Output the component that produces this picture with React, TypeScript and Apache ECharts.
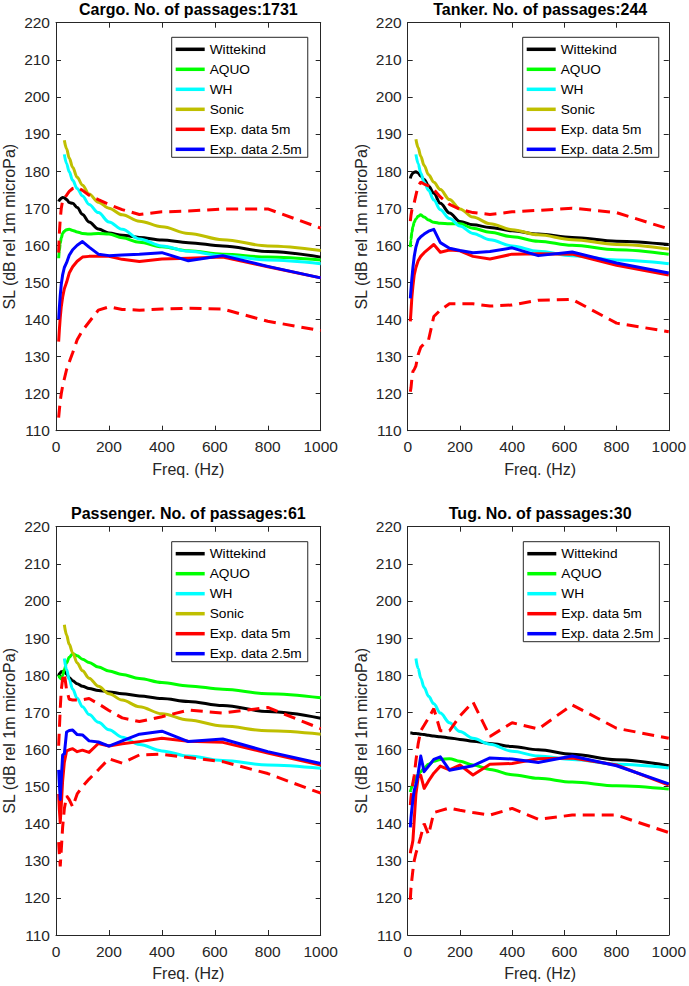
import React, { useEffect, useRef } from "react";
import * as echarts from "echarts";

// ---------- data ----------
const FREQ = [10, 12.5, 16, 20, 25, 31.5, 40, 50, 63, 80, 100, 125, 160, 200, 250, 315, 400, 500, 630, 800, 1000];
const FREQ_MODEL = [31.5, 40, 50, 63, 80, 100, 125, 160, 200, 250, 315, 400, 500, 630, 800, 1000];

const X_TICKS = [0, 200, 400, 600, 800, 1000];
const Y_TICKS = [110, 120, 130, 140, 150, 160, 170, 180, 190, 200, 210, 220];

const TITLES = [
  "Cargo. No. of passages:1731",
  "Tanker. No. of passages:244",
  "Passenger. No. of passages:61",
  "Tug. No. of passages:30",
];

// Cargo
const cargoWittekind = [171.8, 172.1, 172.4, 172.7, 172.9, 172.8, 172.3, 171.5, 171.3, 170.2, 168.3, 166.3, 164.4, 163.3, 162.7, 162.1, 161.4, 160.7, 159.8, 158.3, 156.8];
const cargoAquo = [156.5, 158.5, 160.5, 162, 163.2, 163.8, 164.2, 164.3, 164, 163.6, 163.2, 163, 163.2, 163, 162, 160.8, 159.6, 158.5, 157.6, 156.8, 156];
const cargoWH = [184.5, 182, 179.8, 177.5, 175.3, 173.3, 171, 168.8, 166.3, 164.3, 161.7, 159.8, 158.4, 157.2, 156, 155];
const cargoSonic = [188.3, 186, 183.5, 181, 178.3, 176.2, 173.8, 171.6, 170, 168.2, 166.5, 165, 163.2, 161.5, 159.8, 158.6];
const cargoExp5 = [134, 137, 140.5, 143.5, 146, 148.3, 150, 152.5, 154.2, 155.7, 156.8, 157, 157, 157, 156.2, 155.6, 156.3, 156.5, 156.8, 154.2, 151.2];
const cargoExp5Hi = [158, 163, 167, 170, 172, 172.8, 173.5, 174.5, 175.3, 175.6, 174.8, 173.5, 172.3, 171, 169.6, 168.3, 169, 169.2, 169.8, 169.8, 164.6];
const cargoExp5Lo = [113.5, 115.5, 118, 120, 122, 124, 126.5, 128.5, 131, 134.5, 137, 139.3, 142.5, 143.4, 142.7, 142.5, 142.8, 143, 142.8, 139.5, 137];
const cargoExp25 = [140, 143, 146.5, 149.5, 152, 154, 155.3, 157.3, 158.8, 160, 161, 159.5, 157.6, 157.2, 157.4, 157.6, 158, 155.8, 157.2, 154.3, 151.2];

// Tanker
const tankerWittekind = [178, 178.6, 179.1, 179.5, 179.7, 179.8, 179.5, 178.7, 177.7, 176, 174, 171.3, 168.7, 166.4, 165.5, 164.8, 163.9, 163, 162.1, 161.1, 160.2];
const tankerAquo = [159.5, 161.5, 163.5, 165, 166.2, 167.1, 167.8, 168.2, 167.6, 166.8, 166.2, 165.9, 165.8, 165.8, 164.6, 163.5, 162.3, 161.1, 160, 158.8, 157.6];
const tankerWH = [184.5, 182, 179.5, 177, 174.8, 172.2, 169.6, 167.2, 165.2, 163.2, 161.5, 159.8, 158.4, 157.2, 156, 155];
const tankerSonic = [188.6, 186.3, 184, 181.5, 179, 177, 175, 172.3, 169.8, 167.6, 165.8, 164.2, 162.8, 161.5, 160.2, 159];
const tankerExp5 = [139.5, 142, 146, 149, 152, 154, 155.8, 157, 158, 159, 160.2, 158.1, 158.7, 158.5, 157, 156.3, 157.6, 157.7, 157.6, 154.6, 152];
const tankerExp5Hi = [166.5, 168, 169.5, 170.5, 171.5, 173.5, 176, 177, 176.5, 176, 175, 173, 171, 169.7, 168.8, 168.3, 169, 169.4, 170, 168.8, 164.4];
const tankerExp5Lo = [120.5, 121.5, 124, 126, 126.5, 127.5, 130.5, 132.5, 133.5, 134.5, 140.8, 142.5, 144.2, 144.2, 144.2, 143.6, 143.9, 145.2, 145.4, 139, 136.7];
const tankerExp25 = [145.7, 148, 151, 154, 157, 159.5, 161.5, 162.3, 163, 163.8, 164.3, 160.7, 159.2, 158.6, 158, 158.3, 159.3, 157.2, 158.2, 155.2, 152.5];

// Passenger
const passWittekind = [180, 180.3, 180.6, 180.9, 181, 181, 180.3, 179.3, 178.5, 177.7, 177, 176.4, 175.9, 175.5, 175, 174.4, 173.7, 172.9, 171.8, 170.2, 168.4];
const passAquo = [180, 179.5, 179.2, 179, 180, 181.5, 183.3, 184.8, 185.8, 185.2, 184.3, 183.4, 182.2, 181.1, 180.2, 179.1, 178, 177.1, 176.2, 175, 173.9];
const passWH = [184.5, 181.5, 178.8, 176.2, 173.8, 171.5, 169.4, 167.3, 165.3, 163.3, 161.3, 159.6, 158.2, 157, 155.8, 154.9];
const passSonic = [193.6, 190.8, 188.3, 186, 183.3, 181.2, 179.2, 177, 175, 173.3, 171.5, 169.6, 167.9, 166.3, 165, 164.1];
const passExp5 = [148, 144, 140.3, 145, 151.5, 156.5, 159.6, 159.9, 160.2, 159.4, 159.8, 159.2, 161.6, 160.9, 161.5, 162.1, 163, 162.2, 161.9, 159, 155.8];
const passExp5Hi = [161, 165, 171, 176, 179, 180.5, 176, 173.5, 173.3, 173.3, 173.4, 173.7, 172.3, 170.5, 168.5, 167.5, 168.8, 170.6, 169.8, 171.3, 165.6];
const passExp5Lo = [135, 132, 128.5, 133, 139, 144, 147.5, 146.5, 144.5, 148, 150, 152, 154.5, 157.5, 156.3, 158.5, 158.7, 157.8, 156.7, 153.5, 148.2];
const passExp25 = [154.5, 151, 146.5, 152, 158.5, 158.8, 164.7, 165.1, 165.2, 164, 163.9, 162.3, 162, 160.9, 162.3, 164.1, 164.9, 162.1, 162.8, 159.4, 156.2];

// Tug
const tugWittekind = [164.4, 164.4, 164.4, 164.3, 164.3, 164.3, 164.2, 164.1, 164, 163.8, 163.6, 163.4, 163.1, 162.7, 162.2, 161.6, 160.8, 159.9, 158.7, 157.2, 155.6];
const tugAquo = [148.5, 149.2, 150, 150.8, 151.6, 152.4, 153.2, 154, 155, 156, 156.8, 157.3, 157.5, 156.8, 155.8, 154.6, 153.2, 152.2, 151.2, 150.2, 149.3];
const tugWH = [184.5, 181.8, 179.2, 176.7, 174.3, 172.3, 169.8, 167.2, 164.8, 163, 161.4, 159.5, 158.2, 157.3, 156, 155];
const tugExp5 = [132, 133, 134, 135.5, 141, 148, 152.5, 153, 149.5, 151.5, 153.6, 155.5, 154.5, 155.8, 153.1, 156, 156.2, 157.5, 157.7, 155.8, 150.4];
const tugExp5Hi = [145, 147, 149, 151, 153, 157, 161.5, 165, 166.5, 168.5, 171, 165, 165, 169, 172.8, 163.5, 167.2, 165.5, 172, 165.7, 163];
const tugExp5Lo = [119.5, 122.5, 125, 127.5, 130, 132, 134, 136.5, 140, 137, 143, 143.5, 144.2, 143.6, 143, 142.3, 144.1, 141.2, 142.3, 142.3, 137.6];
const tugExp25 = [139, 141.5, 144, 146.5, 149, 150.5, 153.5, 158.2, 154, 155.5, 157.3, 158, 154.4, 154.9, 155.6, 157.7, 157.4, 156.5, 158.2, 155.6, 150.7];

// ---------- styling / layout ----------
const FONT = "'Liberation Sans', Arial, Helvetica, sans-serif";
const AX = "#262626";
const C = {
  wittekind: "#000000",
  aquo: "#00ff00",
  wh: "#00ffff",
  sonic: "#bfbf00",
  exp5: "#ff0000",
  exp25: "#0000ff",
};
const LW = 3;

const GRIDS = [
  { left: 56, top: 22.7, width: 264.7, height: 408 },
  { left: 407.7, top: 22.7, width: 265, height: 408 },
  { left: 56, top: 526.7, width: 264.7, height: 408.3 },
  { left: 407.7, top: 526.7, width: 265, height: 408.3 },
];
const LEGEND_POS = [
  { left: 171.7, top: 37.3 },
  { left: 522.7, top: 37.3 },
  { left: 171.7, top: 541.7 },
  { left: 523.3, top: 541.7 },
];

type Panel = {
  wittekind: number[];
  aquo: number[];
  wh: number[];
  sonic: number[] | null;
  exp5: number[];
  exp5Hi: number[];
  exp5Lo: number[];
  exp25: number[];
};

const PANELS: Panel[] = [
  { wittekind: cargoWittekind, aquo: cargoAquo, wh: cargoWH, sonic: cargoSonic, exp5: cargoExp5, exp5Hi: cargoExp5Hi, exp5Lo: cargoExp5Lo, exp25: cargoExp25 },
  { wittekind: tankerWittekind, aquo: tankerAquo, wh: tankerWH, sonic: tankerSonic, exp5: tankerExp5, exp5Hi: tankerExp5Hi, exp5Lo: tankerExp5Lo, exp25: tankerExp25 },
  { wittekind: passWittekind, aquo: passAquo, wh: passWH, sonic: passSonic, exp5: passExp5, exp5Hi: passExp5Hi, exp5Lo: passExp5Lo, exp25: passExp25 },
  { wittekind: tugWittekind, aquo: tugAquo, wh: tugWH, sonic: null, exp5: tugExp5, exp5Hi: tugExp5Hi, exp5Lo: tugExp5Lo, exp25: tugExp25 },
];

const zip = (xs: number[], ys: number[]) => ys.map((y, i) => [xs[i], y]);
const plain = (v: number) => String(v);

function buildOption() {
  const grid: any[] = [];
  const xAxis: any[] = [];
  const yAxis: any[] = [];
  const series: any[] = [];
  const legend: any[] = [];
  const graphic: any[] = [];

  PANELS.forEach((p, i) => {
    const g = GRIDS[i];
    grid.push({ ...g, containLabel: false });

    const tick = { show: true, inside: true, length: 5, lineStyle: { color: AX, width: 1 } };
    const line = { show: true, onZero: false, lineStyle: { color: AX, width: 1 } };
    const label = { color: AX, fontSize: 15.5, fontFamily: FONT, formatter: plain };

    xAxis.push({
      type: "value", gridIndex: i, position: "bottom",
      min: X_TICKS[0], max: X_TICKS[X_TICKS.length - 1], interval: X_TICKS[1] - X_TICKS[0],
      axisLine: line, axisTick: tick, splitLine: { show: false },
      axisLabel: { ...label, margin: 8, showMaxLabel: true, showMinLabel: true },
    });
    xAxis.push({
      type: "value", gridIndex: i, position: "top",
      min: X_TICKS[0], max: X_TICKS[X_TICKS.length - 1], interval: X_TICKS[1] - X_TICKS[0],
      axisLine: line, axisTick: tick, splitLine: { show: false }, axisLabel: { show: false },
    });
    yAxis.push({
      type: "value", gridIndex: i, position: "left",
      min: Y_TICKS[0], max: Y_TICKS[Y_TICKS.length - 1], interval: Y_TICKS[1] - Y_TICKS[0],
      axisLine: line, axisTick: tick, splitLine: { show: false },
      axisLabel: { ...label, margin: 6, showMaxLabel: true, showMinLabel: true },
    });
    yAxis.push({
      type: "value", gridIndex: i, position: "right",
      min: Y_TICKS[0], max: Y_TICKS[Y_TICKS.length - 1], interval: Y_TICKS[1] - Y_TICKS[0],
      axisLine: line, axisTick: tick, splitLine: { show: false }, axisLabel: { show: false },
    });

    const xi = i * 2;
    const yi = i * 2;
    const mk = (name: string, color: string, data: number[][], extra: any = {}) => ({
      type: "line", name, xAxisIndex: xi, yAxisIndex: yi, data,
      showSymbol: false, symbol: "none", silent: true, clip: true,
      itemStyle: { color },
      lineStyle: { color, width: LW, type: "solid", cap: "butt", join: "round" },
      emphasis: { disabled: true },
      ...extra,
    });
    const smooth = { smooth: 0.35, smoothMonotone: "x" };

    series.push(mk("Wittekind", C.wittekind, zip(FREQ, p.wittekind), smooth));
    series.push(mk("AQUO", C.aquo, zip(FREQ, p.aquo), smooth));
    series.push(mk("WH", C.wh, zip(FREQ_MODEL, p.wh), smooth));
    if (p.sonic) series.push(mk("Sonic", C.sonic, zip(FREQ_MODEL, p.sonic), smooth));
    series.push(mk("Exp. data 5m", C.exp5, zip(FREQ, p.exp5)));
    const dashed = { lineStyle: { color: C.exp5, width: LW, type: [12, 7], cap: "butt" } };
    series.push(mk("Exp. data 5m upper", C.exp5, zip(FREQ, p.exp5Hi), dashed));
    series.push(mk("Exp. data 5m lower", C.exp5, zip(FREQ, p.exp5Lo), dashed));
    series.push(mk("Exp. data 2.5m", C.exp25, zip(FREQ, p.exp25)));

    const names = p.sonic
      ? ["Wittekind", "AQUO", "WH", "Sonic", "Exp. data 5m", "Exp. data 2.5m"]
      : ["Wittekind", "AQUO", "WH", "Exp. data 5m", "Exp. data 2.5m"];
    legend.push({
      data: names.map((n) => ({ name: n, icon: "rect" })),
      orient: "vertical",
      left: LEGEND_POS[i].left,
      top: LEGEND_POS[i].top,
      itemWidth: 29,
      itemHeight: 3.5,
      itemGap: 6,
      padding: [5, 6, 1, 4],
      borderColor: AX,
      borderWidth: 1,
      borderRadius: 0,
      backgroundColor: "#ffffff",
      selectedMode: false,
      textStyle: { fontSize: 13.7, color: "#000", fontFamily: FONT, lineHeight: 14 },
      z: 10,
    });

    const cx = g.left + g.width / 2;
    const cy = g.top + g.height / 2;
    graphic.push({
      type: "text", x: cx, y: g.top - 13.5,
      style: { text: TITLES[i], fontSize: 16, fontWeight: "bold", fontFamily: FONT, fill: "#000", textAlign: "center", textVerticalAlign: "middle" },
    });
    graphic.push({
      type: "text", x: cx, y: g.top + g.height + 38.8,
      style: { text: "Freq. (Hz)", fontSize: 16, fontFamily: FONT, fill: AX, textAlign: "center", textVerticalAlign: "middle" },
    });
    graphic.push({
      type: "text", x: g.left - 46.5, y: cy, rotation: Math.PI / 2,
      style: { text: "SL (dB rel 1m microPa)", fontSize: 16, fontFamily: FONT, fill: AX, textAlign: "center", textVerticalAlign: "middle" },
    });
  });

  return {
    animation: false,
    backgroundColor: "#ffffff",
    textStyle: { fontFamily: FONT },
    grid, xAxis, yAxis, series, legend, graphic,
  };
}

export default function App() {
  const ref = useRef<HTMLDivElement>(null);
  useEffect(() => {
    document.body.style.margin = "0";
    if (!ref.current) return;
    const chart = echarts.init(ref.current, undefined, { renderer: "svg" });
    chart.setOption(buildOption() as any);
    return () => chart.dispose();
  }, []);
  return <div ref={ref} style={{ width: 689, height: 986 }} />;
}
